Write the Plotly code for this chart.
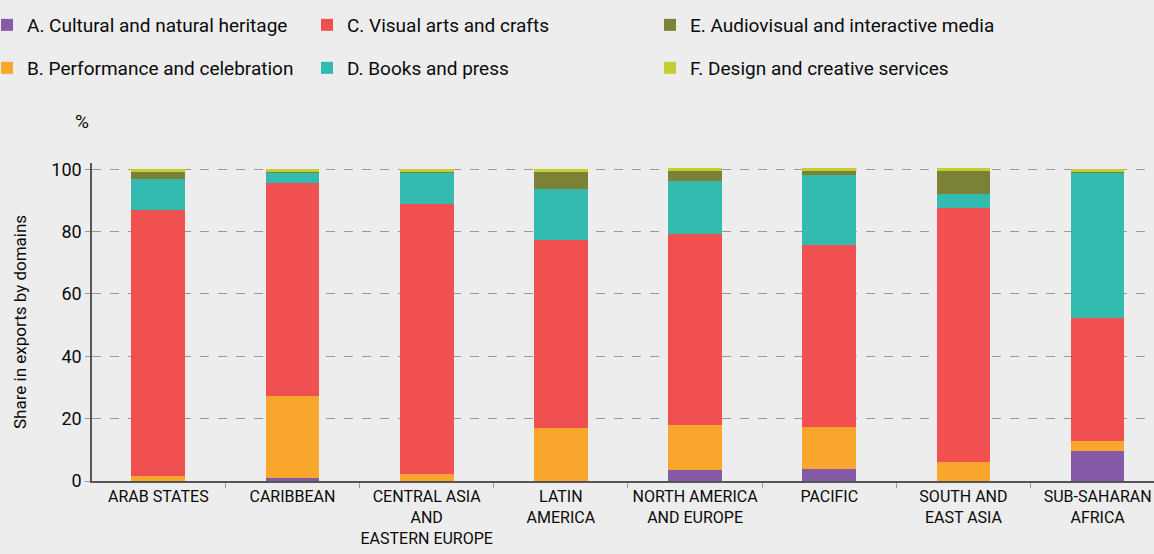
import plotly.graph_objects as go

regions = [
    "ARAB STATES", "CARIBBEAN", "CENTRAL ASIA<br>AND<br>EASTERN EUROPE",
    "LATIN<br>AMERICA", "NORTH AMERICA<br>AND EUROPE", "PACIFIC",
    "SOUTH AND<br>EAST ASIA", "SUB-SAHARAN<br>AFRICA",
]

heritage    = [0.0, 1.1, 0.0, 0.0, 3.4, 3.8, 0.0, 9.6]
performance = [1.6, 26.1, 2.1, 16.9, 14.5, 13.5, 6.0, 3.2]
visual_arts = [85.3, 68.3, 86.8, 60.5, 61.4, 58.4, 81.7, 39.5]
books_press = [10.0, 3.3, 10.2, 16.3, 16.9, 22.4, 4.4, 46.6]
audiovisual = [2.2, 0.3, 0.1, 5.4, 3.3, 1.3, 7.4, 0.2]
design      = [0.9, 0.9, 0.8, 0.9, 0.9, 1.0, 0.9, 0.9]

FONT = "Roboto, Arial, sans-serif"
BG = "#EDEDED"
INK = "#0a0a0a"

series = [
    ("A. Cultural and natural heritage", heritage, "#8459A6"),
    ("B. Performance and celebration", performance, "#F9A62D"),
    ("C. Visual arts and crafts", visual_arts, "#F05050"),
    ("D. Books and press", books_press, "#33BBB0"),
    ("E. Audiovisual and interactive media", audiovisual, "#7B8236"),
    ("F. Design and creative services", design, "#C3CF30"),
]

# plot area in pixels (for placing the legends)
L, T, B, W, H = 92, 163, 73, 1154, 554
PW = W - L
PH = H - T - B


def px_x(x):
    return (x - L) / PW


def px_y(y):
    return (H - B - y) / PH


# legend item positions (left edge px, centre y px)
leg_pos = [(-13, 25), (-13, 68), (307, 25), (307, 68), (650, 25), (650, 68)]

fig = go.Figure()
layout_legends = {}
for i, (name, vals, color) in enumerate(series):
    key = "legend" if i == 0 else f"legend{i + 1}"
    fig.add_trace(go.Bar(
        x=regions,
        y=vals,
        name=name,
        marker_color=color,
        marker_line_width=0,
        width=0.4,
        legend=key,
    ))
    lx, ly = leg_pos[i]
    layout_legends[key] = dict(
        x=px_x(lx), y=px_y(ly), xanchor="left", yanchor="middle",
        bgcolor="rgba(0,0,0,0)", borderwidth=0,
        font=dict(family=FONT, size=19, color=INK),
        itemclick=False, itemdoubleclick=False,
    )

fig.update_layout(
    barmode="stack",
    width=W, height=H,
    margin=dict(l=L, r=0, t=T, b=B, autoexpand=False),
    paper_bgcolor=BG,
    plot_bgcolor=BG,
    font=dict(family=FONT, color=INK),
    showlegend=True,
    xaxis=dict(
        range=[-0.494, 7.42],
        tickson="boundaries",
        tickangle=0,
        ticks="outside", ticklen=5, tickcolor="#999",
        showline=True, linecolor="#555", linewidth=2,
        showgrid=False,
        tickfont=dict(family=FONT, size=16, color=INK),
    ),
    yaxis=dict(
        range=[0, 102],
        tickvals=[0, 20, 40, 60, 80, 100],
        ticks="outside", ticklen=5, tickcolor="#999",
        showline=True, linecolor="#555", linewidth=1.5,
        showgrid=True, gridcolor="#999", griddash="dash", gridwidth=1,
        zeroline=False,
        tickfont=dict(family=FONT, size=18, color=INK),
    ),
    annotations=[
        dict(text="%", xref="paper", yref="paper", x=px_x(82), y=px_y(121),
             xanchor="center", yanchor="middle", showarrow=False,
             font=dict(family=FONT, size=19, color=INK)),
        dict(text="Share in exports by domains", xref="paper", yref="paper",
             x=px_x(20), y=px_y(322), xanchor="center", yanchor="middle",
             textangle=-90, showarrow=False,
             font=dict(family=FONT, size=17, color=INK)),
    ],
    **layout_legends,
)

fig.write_html(
    "out.html",
    config={"displayModeBar": False},
    post_script="document.body.style.margin='0';",
)
